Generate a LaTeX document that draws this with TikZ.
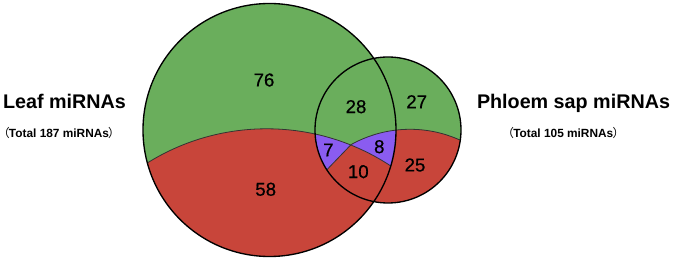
\documentclass[tikz,border=0pt]{standalone}
\usepackage{fontspec}
\setmainfont{Liberation Sans}
\newfontfamily\cjkfont{Noto Sans CJK SC}
\newfontfamily\numfont{Liberation Sans}[FakeBold=0.6]
\definecolor{vgreen}{HTML}{6AAE5C}
\definecolor{vred}{HTML}{C8453A}
\definecolor{vpurple}{HTML}{8A5CF0}
\definecolor{vline}{HTML}{333333}
\newcommand{\lparen}{{\cjkfont\mdseries （}\kern-0.6pt}
\newcommand{\rparen}{\kern-0.6pt{\cjkfont\mdseries ）}}
\tikzset{
  outline/.style={draw=black, line width=1pt},
  divline/.style={draw=vline, line width=0.6pt},
  num/.style={font=\numfont\fontsize{14}{16}\selectfont, inner sep=0pt},
  title/.style={font=\bfseries\fontsize{14.8}{17}\selectfont, inner sep=0pt, anchor=base},
  subtitle/.style={font=\bfseries\fontsize{8.9}{10}\selectfont, inner sep=0pt, anchor=base}
}
\begin{document}
\begin{tikzpicture}[x=0.75pt,y=-0.75pt]
\useasboundingbox (0,0) rectangle (675,259);
\coordinate (C) at (350.7,145);
\coordinate (BC) at (269.5,130);
\coordinate (SC) at (388,130);
\coordinate (DB) at (266.7,354.3);
\coordinate (DS) at (410,250.3);
\coordinate (L) at (310.4,186.9);
% small circle
\fill[vgreen] (SC) circle (73);
\begin{scope}
  \clip (SC) circle (73);
  \begin{scope}
    \clip (350.7,0) rectangle (480,260);
    \fill[vred] (DS) circle (121);
  \end{scope}
  \fill[vred] (C) -- (L) -- (310.4,260) -- (350.7,260) -- cycle;
\end{scope}
% big circle
\fill[vgreen] (BC) circle (126.5);
\begin{scope}
  \clip (BC) circle (126.5);
  \fill[vred] (DB) circle (225.5);
\end{scope}
% lens
\begin{scope}
  \clip (SC) circle (73);
  \clip (BC) circle (126.5);
  \begin{scope}
    \clip (DB) circle (225.5);
    \fill[vpurple] (C) -- (L) -- (300,100) -- (350.7,100) -- cycle;
  \end{scope}
  \begin{scope}
    \clip (350.7,0) rectangle (480,260);
    \clip (DS) circle (121);
    \fill[vpurple, even odd rule] (300,0) rectangle (480,260) (DB) circle (225.5);
  \end{scope}
\end{scope}
% divider lines
\begin{scope}
  \clip (BC) circle (126.5);
  \draw[divline] (DB) circle (225.5);
\end{scope}
\begin{scope}
  \clip (SC) circle (73);
  \draw[divline] (C) -- (L);
  \clip (350.7,0) rectangle (480,260);
  \draw[divline] (DS) circle (121);
\end{scope}
% outlines
\draw[outline] (BC) circle (126.5);
\draw[outline] (SC) circle (73);
% numbers
\node[num] (n76) at (264,80) {76};
\node[num] (n28) at (356,106.7) {28};
\node[num] (n7) at (328.3,150) {7};
\node[num] (n8) at (379.3,146.7) {8};
\node[num] (n10) at (358.3,171.7) {10};
\node[num] (n58) at (265.7,189.3) {58};
\node[num] (n27) at (416.7,101.7) {27};
\node[num] (n25) at (415,165) {25};
% labels
\node[title] (leaf) at (64.5,108.3) {Leaf miRNAs};
\node[title] (phloem) at (573.5,108.3) {Phloem sap miRNAs};
\node[subtitle] (leafsub) at (59,137.3) {\lparen Total 187 miRNAs\rparen};
\node[subtitle] (phloemsub) at (563.3,137.3) {\lparen Total 105 miRNAs\rparen};
\end{tikzpicture}
\end{document}
